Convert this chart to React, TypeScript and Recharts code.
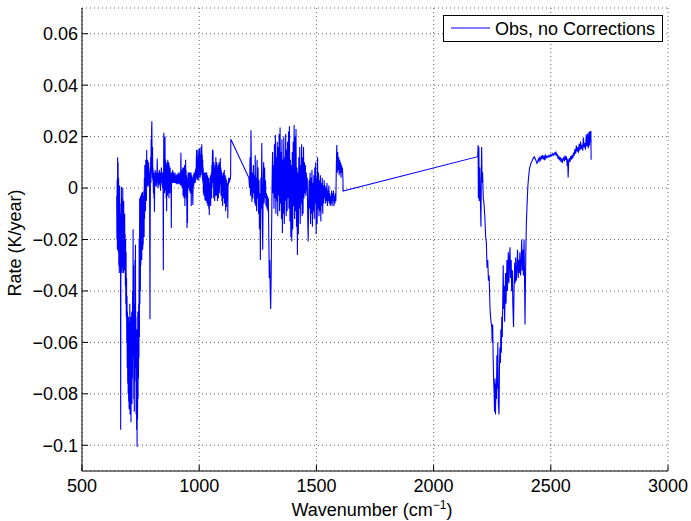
import { LineChart, Line, XAxis, YAxis, CartesianGrid } from "recharts";

// [wavenumber (cm-1), rate (K/year)], one array per spectral band
const longwave: [number, number][] = [
  [648, -0.003], [649, -0.02], [650, 0.003], [651, -0.024], [652, 0.012], [653, -0.018], [654, 0.01], [655, -0.025],
  [656, 0.004], [657, -0.03], [658, -0.002], [659, -0.033], [660, 0.001], [661, -0.028], [662, -0.006], [663, -0.031],
  [664, -0.01], [665, -0.094], [666, -0.015], [667, -0.032], [668, 0.0005], [669, -0.026], [670, -0.004], [671, -0.033],
  [672, -0.008], [673, -0.029], [674, 0.0], [675, -0.031], [676, -0.012], [677, -0.033], [678, -0.005], [679, -0.027],
  [680, -0.015], [681, -0.032], [682, -0.01], [683, -0.03], [684, -0.018], [685, -0.038], [686, -0.02], [687, -0.045],
  [688, -0.025], [689, -0.05], [690, -0.035], [691, -0.06], [692, -0.042], [693, -0.07], [694, -0.048], [695, -0.076],
  [696, -0.055], [697, -0.08], [698, -0.05], [699, -0.083], [700, -0.06], [701, -0.086], [702, -0.052], [703, -0.082],
  [704, -0.045], [705, -0.088], [706, -0.058], [707, -0.085], [708, -0.05], [709, -0.091], [710, -0.062], [711, -0.079],
  [712, -0.048], [713, -0.084], [714, -0.055], [715, -0.074], [716, -0.04], [717, -0.066], [718, -0.016], [719, -0.058],
  [720, -0.03], [721, -0.082], [722, -0.045], [723, -0.087], [724, -0.05], [725, -0.075], [726, -0.028], [727, -0.07],
  [728, -0.022], [729, -0.065], [730, -0.05], [731, -0.088], [732, -0.06], [733, -0.094], [734, -0.055], [735, -0.1006],
  [736, -0.062], [737, -0.09], [738, -0.048], [739, -0.082], [740, -0.052], [741, -0.074], [742, -0.045], [743, -0.066],
  [744, -0.02], [745, -0.058], [746, -0.004], [747, -0.045], [748, -0.012], [749, -0.04], [750, -0.003], [751, -0.03],
  [752, -0.008], [753, -0.025], [754, -0.002], [755, -0.028], [756, -0.006], [757, -0.02], [758, -0.0015], [759, -0.024],
  [760, -0.009], [761, -0.022], [762, -0.003], [763, -0.016], [764, -0.001], [765, -0.019], [766, 0.004], [767, -0.012],
  [768, 0.009], [769, -0.006], [770, 0.006], [771, -0.009], [772, 0.011], [773, -0.002], [774, 0.008], [775, -0.005],
  [776, 0.0148], [777, 0.001], [778, 0.009], [779, 0.002], [780, 0.011], [781, 0.0005], [782, 0.007], [783, 0.003],
  [784, 0.01], [785, 0.001], [786, 0.008], [787, 0.002], [788, 0.006], [789, -0.02], [790, -0.051], [791, -0.01],
  [792, 0.004], [793, 0.012], [794, 0.002], [795, 0.019], [796, 0.006], [797, 0.023], [798, 0.026], [799, 0.01],
  [800, 0.004], [801, 0.016], [802, 0.003], [803, 0.008], [804, 0.001], [805, -0.002], [806, 0.006], [807, -0.004],
  [808, 0.003], [809, -0.0092], [810, 0.002], [811, 0.005], [812, 0.007], [813, 0.001], [814, 0.006], [815, 0.002],
  [816, 0.005], [817, 0.0005], [818, 0.006], [819, 0.002], [820, 0.007], [821, 0.0115], [822, 0.003], [823, 0.006],
  [824, 0.0], [825, 0.005], [826, 0.001], [827, 0.006], [828, 0.0015], [829, 0.005], [830, 0.007], [831, 0.002],
  [832, 0.006], [833, 0.0005], [834, 0.005], [835, -0.001], [836, 0.006], [837, 0.002], [838, 0.007], [839, 0.008],
  [840, 0.003], [841, 0.006], [842, 0.001], [843, 0.005], [844, 0.0], [845, 0.006], [846, 0.0], [847, -0.032],
  [848, 0.002], [849, 0.0215], [850, 0.003], [851, 0.009], [852, -0.002], [853, 0.014], [854, 0.02], [855, 0.004],
  [856, 0.011], [857, -0.001], [858, 0.009], [859, -0.004], [860, 0.008], [861, -0.009], [862, 0.01], [863, 0.0],
  [864, 0.007], [865, -0.003], [866, 0.011], [867, -0.002], [868, 0.008], [869, 0.001], [870, 0.01], [871, -0.004],
  [872, 0.009], [873, 0.0], [874, 0.007], [875, -0.002], [876, 0.008], [877, 0.001], [878, 0.006], [879, 0.0],
  [880, 0.004], [881, -0.0155], [882, 0.002], [883, 0.006], [884, 0.002], [885, 0.005], [886, 0.003], [887, 0.007],
  [888, 0.002], [889, 0.005], [890, 0.003], [891, 0.006], [892, 0.002], [893, 0.005], [894, 0.002], [895, 0.005],
  [896, 0.002], [897, 0.006], [898, 0.002], [899, 0.005], [900, 0.002], [901, 0.005], [902, 0.0015], [903, 0.005],
  [904, 0.002], [905, 0.0055], [906, 0.002], [907, 0.005], [908, 0.0015], [909, 0.005], [910, 0.002], [911, 0.006],
  [912, 0.002], [913, 0.005], [914, 0.0015], [915, 0.005], [916, 0.002], [917, 0.006], [918, 0.002], [919, 0.005],
  [920, 0.001], [921, 0.006], [922, 0.0137], [923, 0.004], [924, 0.007], [925, 0.001], [926, 0.006], [927, 0.0],
  [928, 0.007], [929, 0.002], [930, 0.008], [931, -0.003], [932, 0.006], [933, -0.002], [934, 0.008], [935, -0.004],
  [936, 0.007], [937, -0.002], [938, 0.009], [939, -0.007], [940, 0.005], [941, -0.003], [942, 0.011], [943, -0.002],
  [944, 0.007], [945, -0.004], [946, 0.005], [947, -0.006], [948, -0.0155], [949, 0.002], [950, -0.0136], [951, 0.004],
  [952, 0.0], [953, 0.006], [954, 0.001], [955, 0.005], [956, 0.0], [957, 0.006], [958, -0.001], [959, 0.005],
  [960, 0.001], [961, 0.006], [962, -0.002], [963, 0.004], [964, 0.0], [965, 0.006], [966, -0.007], [967, 0.004],
  [968, -0.002], [969, 0.005], [970, 0.0], [971, 0.004], [972, -0.003], [973, -0.0066], [974, 0.003], [975, 0.0],
  [976, 0.005], [977, 0.001], [978, 0.006], [979, 0.002], [980, 0.005], [981, 0.003], [982, 0.006], [983, 0.002],
  [984, 0.007], [985, 0.003], [986, 0.008], [987, 0.004], [988, 0.012], [989, 0.0148], [990, 0.004], [991, 0.011],
  [992, 0.003], [993, 0.012], [994, 0.004], [995, 0.015], [996, 0.005], [997, 0.012], [998, 0.003], [999, 0.013],
  [1000, 0.005], [1001, 0.0155], [1002, 0.006], [1003, 0.013], [1004, 0.004], [1005, 0.012], [1006, 0.005], [1007, 0.014],
  [1008, 0.016], [1009, 0.006], [1010, 0.012], [1011, 0.017], [1012, 0.005], [1013, 0.013], [1014, 0.003], [1015, 0.011],
  [1016, 0.002], [1017, 0.008], [1018, -0.002], [1019, 0.006], [1020, -0.003], [1021, 0.005], [1022, -0.001], [1023, 0.006],
  [1024, -0.003], [1025, -0.0047], [1026, 0.004], [1027, -0.004], [1028, 0.006], [1029, -0.005], [1030, 0.005], [1031, -0.002],
  [1032, 0.006], [1033, -0.006], [1034, 0.004], [1035, -0.003], [1036, 0.005], [1037, -0.007], [1038, 0.003], [1039, -0.004],
  [1040, 0.004], [1041, -0.008], [1042, 0.002], [1043, -0.0105], [1044, 0.001], [1045, -0.006], [1046, 0.004], [1047, -0.003],
  [1048, 0.005], [1049, -0.007], [1050, 0.004], [1051, -0.002], [1052, 0.006], [1053, -0.004], [1054, 0.009], [1055, 0.0],
  [1056, 0.011], [1057, 0.015], [1058, 0.003], [1059, 0.0146], [1060, 0.002], [1061, 0.009], [1062, -0.004], [1063, 0.01],
  [1064, -0.002], [1065, 0.008], [1066, -0.005], [1067, 0.007], [1068, -0.002], [1069, 0.009], [1070, -0.003], [1071, 0.012],
  [1072, 0.001], [1073, 0.008], [1074, -0.003], [1075, 0.01], [1076, -0.001], [1077, 0.008], [1078, -0.005], [1079, 0.007],
  [1080, -0.002], [1081, 0.009], [1082, -0.004], [1083, 0.008], [1084, 0.0], [1085, 0.01], [1086, -0.002], [1087, 0.007],
  [1088, 0.001], [1089, 0.009], [1090, 0.0116], [1091, 0.002], [1092, 0.008], [1093, -0.003], [1094, 0.007], [1095, -0.002],
  [1096, 0.006], [1097, -0.005], [1098, 0.005], [1099, -0.002], [1100, -0.007], [1101, 0.004], [1102, -0.003], [1103, 0.006],
  [1104, -0.004], [1105, 0.005], [1106, -0.001], [1107, 0.007], [1108, -0.006], [1109, 0.004], [1110, -0.002], [1111, 0.005],
  [1112, -0.004], [1113, -0.009], [1114, 0.004], [1115, -0.003], [1116, -0.0074], [1117, 0.003], [1118, -0.002], [1119, 0.002],
  [1120, -0.005], [1121, 0.001], [1122, -0.0117], [1123, 0.002], [1124, 0.001], [1126, 0.004], [1128, 0.002], [1130, 0.004],
  [1132, 0.003], [1134, 0.005], [1135, 0.019],
];

const waterVapour: [number, number][] = [
  [1212, 0.004], [1215, 0.0], [1217, 0.012], [1219, -0.003], [1221, 0.0225], [1223, 0.002], [1225, -0.0053], [1227, 0.006],
  [1229, -0.004], [1231, 0.009], [1233, -0.002], [1235, 0.005], [1237, -0.006], [1239, 0.0128], [1241, -0.007], [1243, 0.004],
  [1245, -0.009], [1247, 0.011], [1249, -0.004], [1251, 0.008], [1253, -0.01], [1255, 0.003], [1257, -0.016], [1259, -0.002],
  [1261, -0.028], [1263, 0.004], [1265, -0.008], [1267, 0.0175], [1269, -0.01], [1271, -0.024], [1273, 0.002], [1275, 0.01],
  [1277, -0.006], [1279, 0.008], [1281, -0.004], [1283, 0.003], [1285, -0.007], [1287, -0.002], [1289, -0.008], [1291, -0.003],
  [1293, -0.009], [1295, -0.004], [1297, -0.02], [1299, -0.035], [1301, -0.028], [1303, -0.04], [1305, -0.047], [1307, -0.034],
  [1309, -0.015], [1311, 0.003], [1313, 0.014], [1315, -0.002], [1317, 0.009], [1319, -0.008], [1321, 0.017], [1323, -0.004],
  [1325, 0.0206], [1327, -0.01], [1329, 0.012], [1331, -0.005], [1333, 0.018], [1335, -0.011], [1337, 0.016], [1339, -0.003],
  [1341, 0.021], [1343, -0.009], [1345, 0.0235], [1347, -0.006], [1349, 0.014], [1351, -0.012], [1353, 0.019], [1355, -0.0175],
  [1357, 0.011], [1359, -0.01], [1361, 0.02], [1363, -0.014], [1365, 0.012], [1367, -0.005], [1369, 0.021], [1371, -0.011],
  [1373, 0.015], [1375, -0.009], [1377, 0.018], [1379, -0.004], [1381, 0.022], [1383, -0.008], [1385, 0.024], [1387, -0.013],
  [1389, 0.011], [1391, -0.019], [1393, 0.009], [1395, -0.0208], [1397, 0.014], [1399, -0.016], [1401, 0.018], [1403, -0.007],
  [1405, 0.0245], [1407, -0.012], [1409, 0.02], [1411, -0.009], [1413, 0.023], [1415, -0.015], [1417, 0.008], [1419, -0.026],
  [1421, 0.006], [1423, -0.018], [1425, 0.012], [1427, -0.008], [1429, 0.016], [1431, -0.014], [1433, 0.009], [1435, -0.006],
  [1437, 0.017], [1439, -0.011], [1441, 0.012], [1443, -0.01], [1445, 0.016], [1447, -0.004], [1449, 0.01], [1451, -0.002],
  [1453, 0.009], [1455, -0.003], [1457, 0.006], [1459, -0.001], [1461, 0.004], [1463, -0.012], [1465, -0.0208], [1467, -0.005],
  [1469, 0.003], [1471, -0.008], [1473, 0.006], [1475, -0.014], [1477, 0.004], [1479, -0.01], [1481, 0.007], [1483, -0.015],
  [1485, 0.002], [1487, -0.009], [1489, 0.005], [1491, -0.012], [1493, 0.008], [1495, -0.006], [1497, 0.01], [1499, -0.018],
  [1501, 0.004], [1503, -0.014], [1505, 0.012], [1507, -0.008], [1509, 0.006], [1511, -0.011], [1513, 0.003], [1515, -0.009],
  [1517, 0.005], [1519, -0.013], [1521, 0.002], [1523, -0.007], [1525, 0.004], [1527, -0.01], [1529, 0.001], [1531, -0.006],
  [1533, 0.003], [1535, -0.004], [1537, 0.001], [1539, -0.006], [1541, 0.0], [1543, -0.005], [1545, 0.002], [1547, -0.007],
  [1549, -0.001], [1551, -0.005], [1553, 0.001], [1555, -0.006], [1557, -0.002], [1559, -0.007], [1561, -0.003], [1563, -0.006],
  [1565, -0.001], [1567, -0.007], [1569, -0.002], [1571, -0.005], [1573, -0.001], [1575, -0.007], [1577, -0.003], [1579, -0.006],
  [1581, -0.002], [1583, -0.005], [1585, 0.008], [1587, 0.0167], [1589, 0.006], [1591, 0.014], [1593, 0.007], [1595, 0.012],
  [1597, 0.005], [1599, 0.011], [1601, 0.006], [1603, 0.01], [1605, 0.004], [1607, 0.009], [1609, 0.006], [1611, 0.008],
  [1613, 0.004], [1614, -0.0012],
];

const shortwave: [number, number][] = [
  [2188, 0.0122], [2190, 0.0167], [2191, -0.004], [2193, 0.016], [2195, -0.005], [2197, 0.008], [2199, -0.002], [2202, -0.015],
  [2204, 0.01], [2205, 0.016], [2207, 0.002], [2209, 0.006], [2212, -0.004], [2215, -0.006], [2219, -0.012], [2222, -0.019],
  [2225, -0.021], [2228, -0.031], [2231, -0.028], [2234, -0.036], [2237, -0.034], [2240, -0.045], [2242, -0.049], [2245, -0.052],
  [2248, -0.054], [2250, -0.06], [2252, -0.053], [2254, -0.066], [2256, -0.074], [2258, -0.079], [2260, -0.087], [2262, -0.074],
  [2264, -0.088], [2266, -0.076], [2268, -0.082], [2270, -0.065], [2272, -0.078], [2274, -0.06], [2276, -0.083], [2279, -0.088],
  [2281, -0.07], [2283, -0.062], [2285, -0.068], [2287, -0.055], [2289, -0.064], [2291, -0.05], [2293, -0.058], [2295, -0.044],
  [2297, -0.03], [2299, -0.047], [2301, -0.038], [2303, -0.052], [2305, -0.042], [2307, -0.033], [2309, -0.045], [2311, -0.036],
  [2313, -0.028], [2315, -0.04], [2317, -0.031], [2319, -0.025], [2321, -0.037], [2323, -0.029], [2326, -0.023], [2328, -0.035],
  [2331, -0.028], [2333, -0.04], [2336, -0.032], [2338, -0.045], [2341, -0.054], [2343, -0.04], [2346, -0.029], [2348, -0.037],
  [2350, -0.027], [2353, -0.036], [2356, -0.03], [2358, -0.024], [2361, -0.035], [2363, -0.028], [2366, -0.033], [2368, -0.025],
  [2371, -0.034], [2374, -0.027], [2376, -0.02], [2378, -0.032], [2381, -0.024], [2383, -0.034], [2386, -0.02], [2388, -0.036],
  [2390, -0.053], [2392, -0.035], [2394, -0.022], [2396, -0.013], [2399, -0.006], [2402, 0.0005], [2405, 0.004], [2409, 0.0075],
  [2414, 0.0094], [2420, 0.0105], [2426, 0.0118], [2430, 0.0121], [2434, 0.0113], [2438, 0.0104], [2441, 0.0096], [2444, 0.0102],
  [2447, 0.0113], [2450, 0.0105], [2453, 0.0118], [2456, 0.011], [2459, 0.0125], [2462, 0.0112], [2465, 0.0128], [2468, 0.0115],
  [2471, 0.0122], [2474, 0.0108], [2477, 0.013], [2480, 0.0117], [2484, 0.0124], [2488, 0.0119], [2492, 0.0128], [2496, 0.0122],
  [2500, 0.0131], [2504, 0.0125], [2508, 0.0134], [2512, 0.0127], [2516, 0.0136], [2519, 0.0131], [2522, 0.0142], [2525, 0.0124],
  [2528, 0.0132], [2531, 0.0113], [2534, 0.0125], [2537, 0.0108], [2540, 0.012], [2543, 0.0103], [2546, 0.0116], [2549, 0.0098],
  [2552, 0.0112], [2555, 0.0118], [2558, 0.0104], [2561, 0.0126], [2564, 0.0109], [2567, 0.0123], [2570, 0.0085], [2572, 0.0112],
  [2574, 0.0041], [2576, 0.0098], [2579, 0.0116], [2582, 0.0102], [2585, 0.0124], [2588, 0.011], [2591, 0.0129], [2594, 0.0115],
  [2597, 0.0138], [2600, 0.0126], [2603, 0.0152], [2606, 0.0134], [2609, 0.0165], [2612, 0.0142], [2615, 0.0158], [2618, 0.0137],
  [2621, 0.0172], [2624, 0.0146], [2627, 0.0181], [2630, 0.0152], [2633, 0.0168], [2636, 0.0145], [2639, 0.0196], [2642, 0.0158],
  [2645, 0.0175], [2648, 0.0149], [2651, 0.0208], [2654, 0.0162], [2657, 0.0212], [2660, 0.0155], [2663, 0.0218], [2665, 0.0165],
  [2667, 0.0221], [2669, 0.0178], [2671, 0.0222], [2672, 0.011],
];

const xTicks = [500, 1000, 1500, 2000, 2500, 3000];
const yTicks = [-0.1, -0.08, -0.06, -0.04, -0.02, 0, 0.02, 0.04, 0.06];

const data = [...longwave, ...waterVapour, ...shortwave].map(([wn, rate]) => ({ wn, rate }));

const font = "'Liberation Sans', Arial, Helvetica, sans-serif";
const tickStyle = { fontSize: 18, fill: "#000", fontFamily: font };

const fmtY = (v: number) => (v === 0 ? "0" : v < 0 ? "\u2212" + String(-v) : String(v));

export default function App() {
  return (
    <div style={{ position: "absolute", left: 0, top: 0, width: 691, height: 521, background: "#fff" }}>
      <LineChart width={691} height={521} data={data} margin={{ top: 8, right: 23, bottom: 0, left: 0 }}>
        <CartesianGrid stroke="#666" strokeDasharray="1 3" />
        <XAxis
          dataKey="wn"
          type="number"
          domain={[500, 3000]}
          ticks={xTicks}
          interval={0}
          allowDataOverflow
          height={50}
          stroke="#000"
          tickSize={-6}
          tickMargin={14}
          tick={tickStyle}
        />
        <XAxis
          xAxisId="top"
          orientation="top"
          type="number"
          domain={[500, 3000]}
          ticks={xTicks}
          interval={0}
          allowDataOverflow
          height={0}
          stroke="#000"
          tickSize={-6}
          tick={false}
        />
        <YAxis
          type="number"
          domain={[-0.11, 0.07]}
          ticks={yTicks}
          interval={0}
          allowDataOverflow
          width={82}
          stroke="#000"
          tickSize={-6}
          tickMargin={10}
          tick={tickStyle}
          tickFormatter={fmtY}
        />
        <YAxis
          yAxisId="right"
          orientation="right"
          type="number"
          domain={[-0.11, 0.07]}
          ticks={yTicks}
          interval={0}
          allowDataOverflow
          width={0}
          stroke="#000"
          tickSize={-6}
          tick={false}
        />
        <Line
          dataKey="rate"
          type="linear"
          stroke="#0000ff"
          strokeWidth={1.1}
          dot={false}
          isAnimationActive={false}
        />
      </LineChart>
      <svg
        width={691}
        height={521}
        style={{ position: "absolute", left: 0, top: 0, pointerEvents: "none" }}
        fontFamily={font}
      >
        <rect x={443.5} y={15.5} width={219} height={26} fill="#fff" stroke="#000" strokeWidth={1} />
        <line x1={451} y1={28} x2={490} y2={28} stroke="#0000ff" strokeWidth={1} />
        <text x={495} y={35} fontSize={18} fill="#000">Obs, no Corrections</text>
        <text x={372} y={516} fontSize={18} fill="#000" textAnchor="middle">
          Wavenumber (cm<tspan fontSize={12} dy={-7}>{"\u22121"}</tspan>
          <tspan dy={7}>)</tspan>
        </text>
        <text x={21} y={243} fontSize={18} fill="#000" textAnchor="middle" transform="rotate(-90 21 243)">
          Rate (K/year)
        </text>
      </svg>
    </div>
  );
}
